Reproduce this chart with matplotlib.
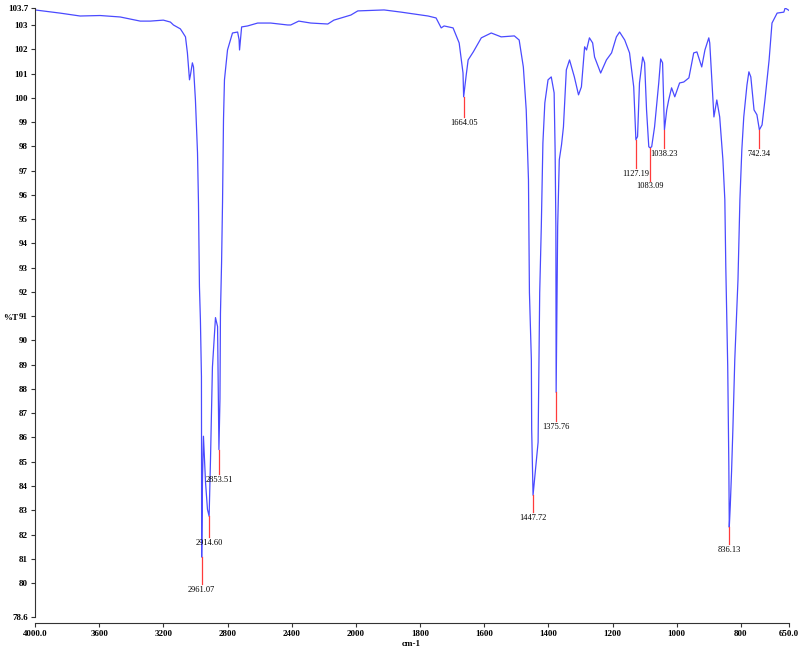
import numpy as np
import matplotlib
matplotlib.use("Agg")
import matplotlib.pyplot as plt
from matplotlib.scale import FuncScale

# ---- data (wavenumber cm-1, %T) ----
wavenumber = [4000, 3844, 3719, 3594, 3469, 3344, 3281, 3200, 3156, 3137, 3094, 3081, 3062,
              3050, 3037, 3031, 3019, 3012, 3000, 2987, 2981, 2975, 2969, 2962.5, 2961.07,
              2956, 2950, 2937, 2925, 2914.6, 2906, 2894, 2875, 2862, 2853.51, 2847, 2844,
              2837, 2831, 2825, 2819, 2800, 2769, 2737, 2728, 2725, 2719, 2712, 2675, 2612,
              2531, 2425, 2406, 2356, 2281, 2175, 2137, 2031, 1994, 1912, 1859, 1775, 1750,
              1734, 1725, 1697, 1678, 1666, 1664.05, 1656, 1650, 1634, 1609, 1578, 1547,
              1506, 1491, 1478, 1469, 1462, 1459, 1453, 1452, 1447.72, 1440, 1432, 1427,
              1422, 1417, 1411, 1401, 1391, 1382, 1379, 1376.6, 1375.76, 1371, 1366, 1359,
              1353, 1344, 1334, 1319, 1306, 1297, 1287, 1281, 1272, 1262, 1256, 1237, 1219,
              1203, 1188, 1178, 1162, 1147, 1134, 1127.19, 1122, 1116, 1106, 1100, 1094,
              1087, 1083.09, 1078, 1069, 1056, 1050, 1044, 1038.23, 1031, 1025, 1016, 1006,
              991, 978, 962, 947, 937, 922, 912, 900, 897, 884, 875, 866, 856, 850, 847,
              841, 837.5, 836.13, 833, 829, 825, 822, 819, 809, 803, 797, 791, 781, 775, 769,
              759, 750, 742.34, 734, 725, 712, 703, 687, 666, 662, 650]
transmittance = [103.62, 103.49, 103.37, 103.39, 103.33, 103.16, 103.16, 103.2, 103.12, 103.0,
                 102.84, 102.71, 102.51, 101.85, 100.74, 100.94, 101.44, 101.27, 99.91, 97.73,
                 95.67, 92.22, 90.86, 88.51, 81.07, 84.3, 86.05, 84.15, 83.04, 82.75, 85.1,
                 88.9, 90.94, 90.57, 85.5, 87.6, 91.1, 93.2, 95.7, 99.1, 100.74, 101.97,
                 102.67, 102.71, 102.4, 101.97, 102.4, 102.92, 102.96, 103.08, 103.08, 103.0,
                 103.0, 103.16, 103.08, 103.04, 103.2, 103.41, 103.58, 103.62, 103.53, 103.37,
                 103.29, 102.88, 102.96, 102.88, 102.26, 101.02, 100.04, 100.94, 101.56,
                 101.89, 102.47, 102.67, 102.51, 102.55, 102.38, 101.27, 99.5, 96.62, 91.97,
                 89.21, 86.33, 83.62, 84.69, 85.8, 91.97, 94.69, 98.14, 99.79, 100.74, 100.86,
                 100.2, 97.86, 94.69, 87.86, 94.69, 97.44, 98.06, 98.8, 101.15, 101.56,
                 100.86, 100.12, 100.45, 102.1, 101.97, 102.47, 102.26, 101.68, 101.02,
                 101.56, 101.85, 102.51, 102.71, 102.38, 101.85, 100.45, 98.27, 98.4, 100.61,
                 101.68, 101.44, 99.5, 97.98, 97.94, 97.98, 98.8, 100.61, 101.6, 101.44,
                 98.68, 99.5, 99.91, 100.41, 100.04, 100.61, 100.65, 100.82, 101.85, 101.89,
                 101.27, 101.97, 102.47, 102.26, 99.21, 99.91, 99.21, 97.44, 95.8, 93.04,
                 88.93, 84.81, 82.3, 83.2, 84.6, 86.3, 87.8, 89.2, 92.5, 95.8, 97.86, 99.21,
                 100.53, 101.07, 100.86, 99.5, 99.3, 98.68, 98.88, 99.91, 101.56, 103.08,
                 103.49, 103.53, 103.7, 103.6]

peak_positions = [2961.07, 2914.60, 2853.51, 1664.05, 1447.72, 1375.76, 1127.19,
                  1083.09, 1038.23, 836.13, 742.34]
peak_values = [81.07, 82.75, 85.5, 100.04, 83.62, 87.86, 98.27, 97.94, 98.68, 82.3, 98.68]
# length of the red marker line below each peak (in %T units)
peak_drop = [1.1, 0.85, 1.0, 0.85, 0.7, 1.2, 1.15, 1.35, 0.75, 0.7, 0.75]

x_ticks = [4000, 3600, 3200, 2800, 2400, 2000, 1800, 1600, 1400, 1200, 1000, 800, 650]
x_tick_labels = ["4000.0", "3600", "3200", "2800", "2400", "2000", "1800", "1600",
                 "1400", "1200", "1000", "800", "650.0"]
y_ticks = [78.6] + list(range(80, 104)) + [103.7]
y_tick_labels = ["78.6"] + [str(v) for v in range(80, 104)] + ["103.7"]


def fwd(x):
    x = np.asarray(x, dtype=float)
    return np.where(x >= 2000, x, 2 * x - 2000)


def inv(u):
    u = np.asarray(u, dtype=float)
    return np.where(u >= 2000, u, (u + 2000) / 2)


plt.rcParams['font.family'] = ['Liberation Serif', 'DejaVu Serif']

fig = plt.figure(figsize=(8.0, 6.49), dpi=100)
ax = fig.add_axes([0.04375, 1 - 617 / 649, 0.9425, (617 - 8) / 649])
ax.set_xscale(FuncScale(ax, (fwd, inv)))
for s in ['top', 'right']:
    ax.spines[s].set_visible(False)
ax.spines['bottom'].set_position(('outward', 4))
ax.spines['left'].set_color('#333333')
ax.spines['bottom'].set_color('#333333')

ax.plot(wavenumber, transmittance, color='#4a4aff', lw=0.9)
ax.set_xlim(4000, 650)
ax.set_ylim(78.6, 103.7)

for xp, yp, d in zip(peak_positions, peak_values, peak_drop):
    ax.plot([xp, xp], [yp, yp - d], color='#ff3b3b', lw=0.9)
    ax.text(xp, yp - d - 0.08, f"{xp:.2f}", ha='center', va='top', fontsize=6)

ax.set_xticks(x_ticks)
ax.set_xticklabels(x_tick_labels)
ax.set_yticks(y_ticks)
ax.set_yticklabels(y_tick_labels)
ax.minorticks_off()
ax.tick_params(axis='both', direction='out', length=3, width=0.8, pad=2,
               color='#333333', labelsize=6.5)
for lab in ax.get_xticklabels() + ax.get_yticklabels():
    lab.set_fontweight('bold')

fig.text(0.004, 1 - 318 / 649, "%T", fontsize=6.5, fontweight='bold', va='center', ha='left')
fig.text(411 / 800, 1 - 644 / 649, "cm-1", fontsize=6.5, fontweight='bold', va='center', ha='center')

fig.savefig("out.png", dpi=100)
